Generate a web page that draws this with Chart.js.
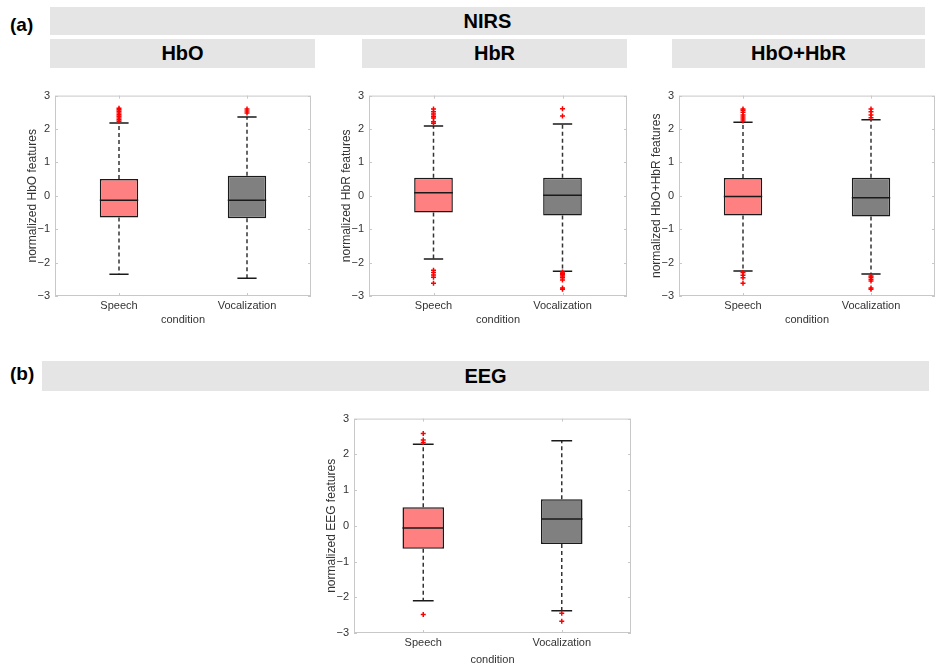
<!DOCTYPE html>
<html>
<head>
<meta charset="utf-8">
<script src="https://cdn.jsdelivr.net/npm/chart.js@4.4.1/dist/chart.umd.min.js"></script>
<style>
  html, body { margin: 0; padding: 0; background: #fff; width: 936px; height: 666px; overflow: hidden; position: relative; font-family: "Liberation Sans", Arial, sans-serif; }
  .tag { position: absolute; font-weight: bold; font-size: 19px; color: #000; line-height: 1; }
  .banner { position: absolute; background: #e5e5e5; font-weight: bold; font-size: 20px; color: #000; display: flex; align-items: center; justify-content: center; }
  canvas { position: absolute; }
</style>
</head>
<body>
<div class="tag" style="left:10px;top:15px">(a)</div>
<div class="banner" style="left:50px;top:7px;width:875px;height:28px">NIRS</div>
<div class="banner" style="left:50px;top:39px;width:265px;height:29px">HbO</div>
<div class="banner" style="left:362px;top:39px;width:265px;height:29px">HbR</div>
<div class="banner" style="left:672px;top:39px;width:253px;height:29px">HbO+HbR</div>

<div class="tag" style="left:10px;top:364px">(b)</div>
<div class="banner" style="left:42px;top:361px;width:887px;height:30px">EEG</div>

<canvas id="hbo" width="296" height="243" style="left:25px;top:84px"></canvas>
<canvas id="hbr" width="298" height="243" style="left:339px;top:84px"></canvas>
<canvas id="both" width="296" height="243" style="left:649px;top:84px"></canvas>
<canvas id="eeg" width="317" height="260" style="left:324px;top:407px"></canvas>

<script>
const conditions = ['Speech', 'Vocalization'];
const boxColors = ['#ff8080', '#808080'];

// NIRS - HbO
const hboQ1 = [-0.65, -0.67];
const hboMedian = [-0.13, -0.13];
const hboQ3 = [0.50, 0.60];
const hboLower = [-2.35, -2.47];
const hboUpper = [2.18, 2.36];
const hboOutliers = [
  [2.23, 2.28, 2.33, 2.38, 2.43, 2.48, 2.53, 2.58, 2.62],
  [2.48, 2.54, 2.60]
];

// NIRS - HbR
const hbrQ1 = [-0.50, -0.59];
const hbrMedian = [0.09, 0.02];
const hbrQ3 = [0.54, 0.54];
const hbrLower = [-1.89, -2.26];
const hbrUpper = [2.09, 2.15];
const hbrOutliers = [
  [2.17, 2.22, 2.33, 2.38, 2.45, 2.52, 2.60, -2.23, -2.30, -2.37, -2.44, -2.62],
  [2.39, 2.61, -2.28, -2.32, -2.36, -2.40, -2.45, -2.52, -2.76, -2.80]
];

// NIRS - HbO+HbR
const bothQ1 = [-0.59, -0.62];
const bothMedian = [-0.02, -0.06];
const bothQ3 = [0.53, 0.54];
const bothLower = [-2.25, -2.34];
const bothUpper = [2.20, 2.28];
const bothOutliers = [
  [2.24, 2.30, 2.36, 2.42, 2.50, 2.56, 2.60, -2.30, -2.38, -2.45, -2.62],
  [2.34, 2.42, 2.52, 2.60, -2.40, -2.44, -2.50, -2.55, -2.76, -2.80]
];

// EEG
const eegQ1 = [-0.64, -0.51];
const eegMedian = [-0.06, 0.19];
const eegQ3 = [0.52, 0.74];
const eegLower = [-2.10, -2.38];
const eegUpper = [2.28, 2.38];
const eegOutliers = [
  [2.33, 2.40, 2.58, -2.48],
  [-2.45, -2.67]
];

const yTicks = [-3, -2, -1, 0, 1, 2, 3];

// light grey axes box with inward ticks, like the MATLAB figure
const framePlugin = {
  id: 'frame',
  beforeDatasetsDraw(chart) {
    const { ctx, chartArea: a, scales } = chart;
    ctx.save();
    ctx.strokeStyle = '#c8c8c8';
    ctx.lineWidth = 1;
    ctx.strokeRect(a.left + 0.5, a.top + 0.5, a.right - a.left - 1, a.bottom - a.top - 1);
    ctx.beginPath();
    yTicks.forEach(v => {
      const y = Math.round(scales.y.getPixelForValue(v)) + 0.5;
      ctx.moveTo(a.left, y); ctx.lineTo(a.left + 3, y);
      ctx.moveTo(a.right - 3, y); ctx.lineTo(a.right, y);
    });
    conditions.forEach((c, i) => {
      const x = Math.round(scales.x.getPixelForValue(i + 1)) + 0.5;
      ctx.moveTo(x, a.top); ctx.lineTo(x, a.top + 3);
      ctx.moveTo(x, a.bottom - 3); ctx.lineTo(x, a.bottom);
    });
    ctx.stroke();
    ctx.restore();
  }
};

function hSegments(center, halfWidth, values) {
  const pts = [];
  values.forEach((v, i) => {
    pts.push({ x: center[i] - halfWidth, y: v }, { x: center[i] + halfWidth, y: v }, { x: center[i], y: null });
  });
  return pts;
}

function vSegments(center, from, to) {
  const pts = [];
  from.forEach((v, i) => {
    pts.push({ x: center[i], y: v }, { x: center[i], y: to[i] }, { x: center[i], y: null });
  });
  return pts;
}

function makeBoxplot(id, yTitle, q1, median, q3, lower, upper, outliers, xHeight) {
  const pos = conditions.map((c, i) => i + 1);
  const boxHalf = 0.15;
  const capHalf = 0.075;
  const outPts = [];
  outliers.forEach((list, i) => list.forEach(v => outPts.push({ x: pos[i], y: v })));

  new Chart(document.getElementById(id), {
    type: 'bar',
    data: {
      datasets: [
        {
          type: 'scatter',
          data: outPts,
          pointStyle: 'cross',
          pointRadius: 2.5,
          borderColor: '#ff0000',
          borderWidth: 1.5,
          order: 0
        },
        {
          type: 'line',
          data: hSegments(pos, boxHalf, median),
          borderColor: '#1a1a1a',
          borderWidth: 1.5,
          pointRadius: 0,
          spanGaps: false,
          order: 1
        },
        {
          type: 'line',
          data: [...hSegments(pos, capHalf, upper), ...hSegments(pos, capHalf, lower)],
          borderColor: '#1a1a1a',
          borderWidth: 1.5,
          pointRadius: 0,
          spanGaps: false,
          order: 2
        },
        {
          type: 'line',
          data: [...vSegments(pos, q3, upper), ...vSegments(pos, q1, lower)],
          borderColor: '#333333',
          borderWidth: 1.5,
          borderDash: [4, 3],
          pointRadius: 0,
          spanGaps: false,
          order: 3
        },
        {
          type: 'bar',
          data: pos.map((x, i) => ({ x, y: [q1[i], q3[i]] })),
          backgroundColor: boxColors,
          borderColor: '#1a1a1a',
          borderWidth: 1.5,
          borderSkipped: false,
          barPercentage: boxHalf * 2,
          categoryPercentage: 1,
          order: 4
        }
      ]
    },
    options: {
      responsive: false,
      animation: false,
      layout: { padding: { top: 10, right: 10, left: 0, bottom: 0 } },
      plugins: { legend: { display: false }, tooltip: { enabled: false } },
      scales: {
        x: {
          type: 'linear',
          min: 0.5,
          max: 2.5,
          offset: false,
          grid: { display: false, drawTicks: false },
          border: { display: false },
          afterBuildTicks: s => { s.ticks = pos.map(v => ({ value: v })); },
          afterFit: s => { s.height = xHeight; },
          ticks: {
            padding: 3,
            color: '#333',
            font: { family: 'Liberation Sans', size: 11 },
            maxRotation: 0,
            callback: v => conditions[v - 1]
          },
          title: { display: true, text: 'condition', color: '#333', padding: 0, font: { family: 'Liberation Sans', size: 11 } }
        },
        y: {
          min: -3,
          max: 3,
          grid: { display: false, drawTicks: false },
          border: { display: false },
          afterBuildTicks: s => { s.ticks = yTicks.map(v => ({ value: v })); },
          afterFit: s => { s.width = 30; },
          ticks: {
            padding: 5,
            color: '#333',
            font: { family: 'Liberation Sans', size: 11 },
            callback: v => (v < 0 ? '\u2212' + Math.abs(v) : String(v))
          },
          title: { display: true, text: yTitle, color: '#333', padding: 0, font: { family: 'Liberation Sans', size: 12 } }
        }
      }
    },
    plugins: [framePlugin]
  });
}

makeBoxplot('hbo', 'normalized HbO features', hboQ1, hboMedian, hboQ3, hboLower, hboUpper, hboOutliers, 31);
makeBoxplot('hbr', 'normalized HbR features', hbrQ1, hbrMedian, hbrQ3, hbrLower, hbrUpper, hbrOutliers, 31);
makeBoxplot('both', 'normalized HbO+HbR features', bothQ1, bothMedian, bothQ3, bothLower, bothUpper, bothOutliers, 31);
makeBoxplot('eeg', 'normalized EEG features', eegQ1, eegMedian, eegQ3, eegLower, eegUpper, eegOutliers, 34);
</script>
</body>
</html>
